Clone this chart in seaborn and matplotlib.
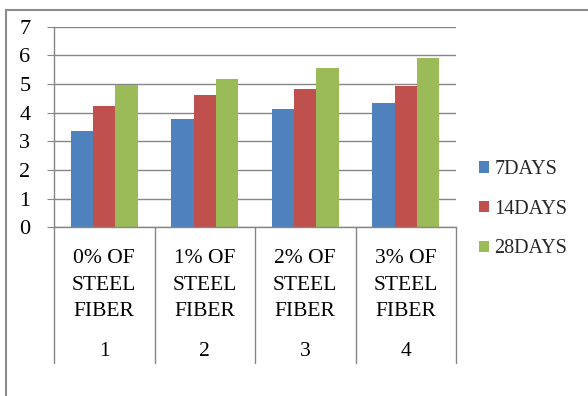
import matplotlib
matplotlib.use("Agg")
import matplotlib.pyplot as plt
import matplotlib.transforms as mtransforms
from matplotlib.lines import Line2D
from matplotlib.patches import Patch
import pandas as pd
import seaborn as sns

# Data
categories = ["0% OF\nSTEEL\nFIBER", "1% OF\nSTEEL\nFIBER",
              "2% OF\nSTEEL\nFIBER", "3% OF\nSTEEL\nFIBER"]
group_numbers = ["1", "2", "3", "4"]
series_names = ["7DAYS", "14DAYS", "28DAYS"]
days_7 = [3.35, 3.78, 4.12, 4.33]
days_14 = [4.24, 4.63, 4.81, 4.93]
days_28 = [4.98, 5.17, 5.57, 5.91]
y_ticks = [0, 1, 2, 3, 4, 5, 6, 7]

colors = ["#4F81BD", "#C0504D", "#9BBB59"]
grid_color = "#868686"

df = pd.DataFrame({
    "category": categories * 3,
    "series": [series_names[0]] * 4 + [series_names[1]] * 4 + [series_names[2]] * 4,
    "value": days_7 + days_14 + days_28,
})

sns.set_theme(style="white")
plt.rcParams["font.family"] = ["Liberation Serif", "DejaVu Serif"]

W, H = 588, 396
fig = plt.figure(figsize=(W / 100, H / 100), dpi=100)
ax_left, ax_right, ax_top, ax_bottom = 54, 456, 26.7, 227.3
ax = fig.add_axes([ax_left / W, 1 - ax_bottom / H,
                   (ax_right - ax_left) / W, (ax_bottom - ax_top) / H])

sns.barplot(data=df, x="category", y="value", hue="series",
            order=categories, hue_order=series_names, palette=colors,
            saturation=1, width=0.663, linewidth=0, errorbar=None,
            legend=False, ax=ax)

ax.set_xlim(-0.5, len(categories) - 0.5)
ax.set_ylim(0, 7)
ax.set_yticks(y_ticks)
ax.set_yticklabels([str(t) for t in y_ticks])
ax.set_xlabel("")
ax.set_ylabel("")
ax.set_xticks([])

ax.set_axisbelow(True)
ax.yaxis.grid(True, color=grid_color, linewidth=1)
for side in ("top", "right"):
    ax.spines[side].set_visible(False)
for side in ("left", "bottom"):
    ax.spines[side].set_color(grid_color)
    ax.spines[side].set_linewidth(1)

ax.tick_params(axis="y", left=True, length=5, width=0.8, color=grid_color,
               pad=12, labelsize=16, labelcolor="black")

# Two-level category axis: separators, labels and group numbers
blend = mtransforms.blended_transform_factory(ax.transData, ax.transAxes)
ax_h = ax_bottom - ax_top
sep_bottom = -(362.7 - ax_bottom) / ax_h
for b in [i - 0.5 for i in range(len(categories) + 1)]:
    ax.add_line(Line2D([b, b], [0, sep_bottom], transform=blend,
                       color=grid_color, linewidth=1, clip_on=False))

label_y = -(285.2 - ax_bottom) / ax_h
number_y = -(351.3 - ax_bottom) / ax_h
for i, (lab, num) in enumerate(zip(categories, group_numbers)):
    ax.text(i, label_y, lab, transform=blend, ha="center", va="center",
            fontsize=15.5, linespacing=1.52, color="black")
    ax.text(i, number_y, num, transform=blend, ha="center", va="center",
            fontsize=15.5, color="black")

# Legend
handles = [Patch(facecolor=c, edgecolor="none") for c in colors]
ax.legend(handles, series_names, loc="center left",
          bbox_to_anchor=(479.3 / W, 1 - 209.2 / H),
          bbox_transform=fig.transFigure, frameon=False, fontsize=14.5,
          handlelength=0.5, handleheight=0.5, handletextpad=0.25,
          labelspacing=1.03, borderpad=0, borderaxespad=0)

# Chart area border (top and left edges)
fig.add_artist(Line2D([6 / W, 6 / W], [0, 1 - 10 / H], transform=fig.transFigure,
                      color="#8c8c8c", linewidth=1.5))
fig.add_artist(Line2D([6 / W, 1], [1 - 10 / H, 1 - 10 / H], transform=fig.transFigure,
                      color="#8c8c8c", linewidth=1.5))

fig.savefig("out.png", dpi=100)
